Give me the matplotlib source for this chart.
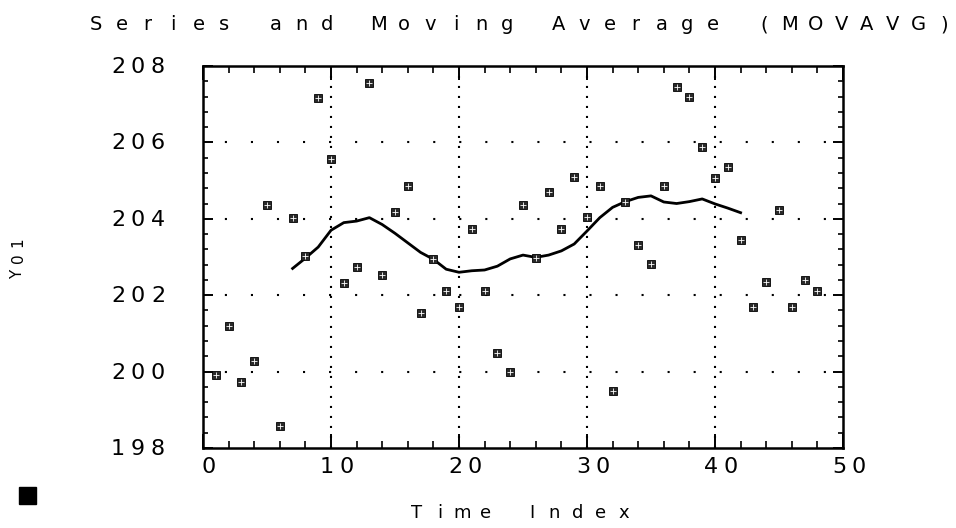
# series with its 13-point centred moving average
import numpy as np
import matplotlib
matplotlib.use("Agg")
import matplotlib.pyplot as plt
from matplotlib.ticker import MultipleLocator
from matplotlib.patches import Rectangle

time_index = list(range(1, 49))
series = [199.90, 201.19, 199.72, 200.28, 204.36, 198.58, 204.03, 203.03,
          207.17, 205.57, 202.33, 202.75, 207.55, 202.53, 204.17, 204.86,
          201.53, 202.95, 202.11, 201.68, 203.73, 202.11, 200.48, 199.98,
          204.36, 202.97, 204.71, 203.73, 205.09, 204.04, 204.87, 199.50,
          204.45, 203.31, 202.82, 204.87, 207.46, 207.18, 205.89, 205.06,
          205.35, 203.44, 201.68, 202.34, 204.23, 201.68, 202.40, 202.11]

movavg_index = list(range(7, 43))
movavg = [202.70, 202.97, 203.26, 203.70, 203.90, 203.94, 204.03, 203.85,
          203.62, 203.37, 203.12, 202.94, 202.68, 202.60, 202.64, 202.66,
          202.76, 202.95, 203.05, 202.99, 203.05, 203.16, 203.34, 203.68,
          204.03, 204.30, 204.45, 204.56, 204.60, 204.44, 204.40, 204.45,
          204.52, 204.39, 204.28, 204.16]

x_ticks = [0, 10, 20, 30, 40, 50]
y_ticks = [198, 200, 202, 204, 206, 208]

W, H = 956, 528
FONT = "DejaVu Sans"

fig = plt.figure(figsize=(W / 100, H / 100), dpi=100)
ax = fig.add_axes([203 / W, 80 / H, 640 / W, 382 / H])


def spaced_text(x, y, s, pitch, size, rotation=0, weight="normal"):
    # old plotter font: fixed pitch with wide gaps; x, y in pixels from top-left
    n = len(s)
    for i, ch in enumerate(s):
        off = (i - (n - 1) / 2) * pitch
        if rotation == 90:
            px, py = x, y - off
        else:
            px, py = x + off, y
        fig.text(px / W, 1 - py / H, ch, ha="center", va="center",
                 fontsize=size, family=FONT, rotation=rotation,
                 weight=weight, color="black")


# moving average curve
ax.plot(movavg_index, movavg, color="black", lw=2.0, zorder=3)

# data points drawn as small hatched squares
ax.plot(time_index, series, ls="none", marker="s", ms=6,
        mfc="#2a2a2a", mec="black", mew=0.6, zorder=4)
ax.plot(time_index, series, ls="none", marker="+", ms=4.5,
        mec="white", mew=0.6, zorder=5)

ax.set_xlim(0, 50)
ax.set_ylim(198, 208)
ax.xaxis.set_major_locator(MultipleLocator(10))
ax.xaxis.set_minor_locator(MultipleLocator(2))
ax.yaxis.set_major_locator(MultipleLocator(2))
ax.yaxis.set_minor_locator(MultipleLocator(0.4))

ax.tick_params(axis="x", which="major", direction="in", length=10, width=1.4,
               top=True, bottom=True, labelbottom=False)
ax.tick_params(axis="x", which="minor", direction="in", length=5, width=1.2,
               top=True, bottom=True)
ax.tick_params(axis="y", which="major", direction="in", length=7, width=1.4,
               left=True, right=True, labelleft=False)
ax.tick_params(axis="y", which="minor", direction="in", length=3.5, width=1.2,
               left=True, right=True)

for sp in ax.spines.values():
    sp.set_linewidth(1.8)

# dotted grid: vertical lines dense, horizontal lines sparse
for v in x_ticks[1:-1]:
    ax.axvline(v, color="black", lw=1.5, ls=(0, (1, 3.8)), zorder=1)
for v in y_ticks[1:-1]:
    ax.axhline(v, color="black", lw=1.5, ls=(2, (1, 11.5)), zorder=1)

# tick labels
fig.canvas.draw()
for v in x_ticks:
    px, _ = ax.transData.transform((v, 198))
    spaced_text(px + 6, 467, str(v), 20, 16)
for v in y_ticks:
    _, py = ax.transData.transform((0, v))
    spaced_text(138, H - py + 1, str(v), 20, 16)

spaced_text(520, 25, "Series and Moving Average (MOVAVG)", 25.7, 14)
spaced_text(520, 513, "Time Index", 23, 13)
spaced_text(18, 258, "Y01", 16, 11, rotation=90)

fig.patches.append(Rectangle((19 / W, 1 - 504 / H), 17 / W, 17 / H,
                             transform=fig.transFigure, color="black"))

fig.savefig("out.png", dpi=100)
